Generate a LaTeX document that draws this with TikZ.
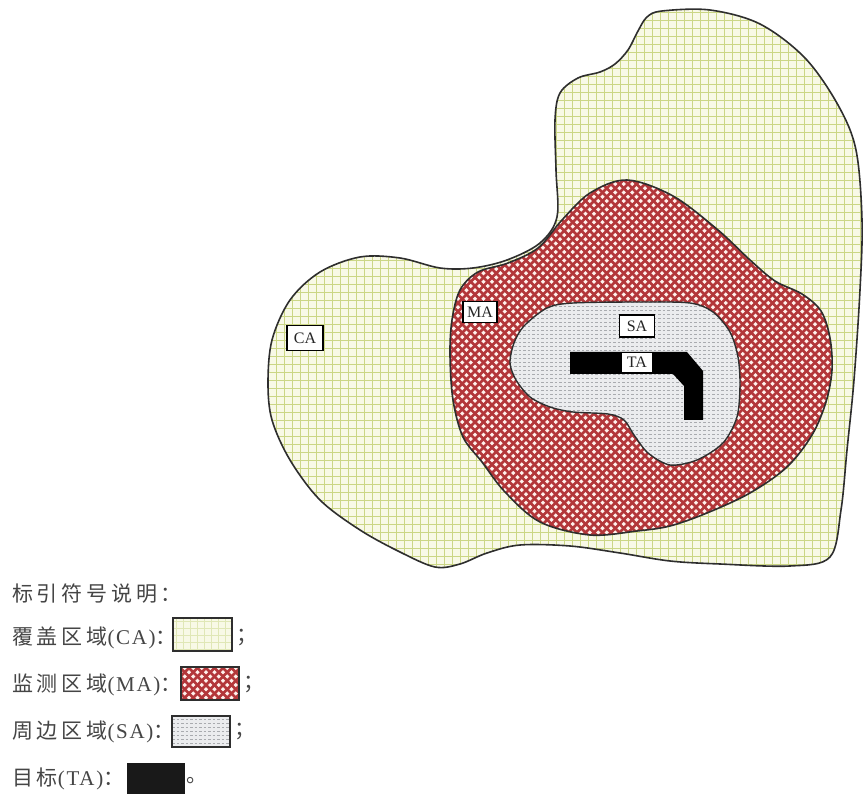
\documentclass[tikz,border=0pt]{standalone}
\usepackage{fontspec}
\setmainfont{Liberation Serif}
\newfontfamily\cjk[LetterSpace=18]{Noto Sans CJK SC}
\newfontfamily\latn[LetterSpace=8]{Liberation Serif}
\definecolor{caFill}{HTML}{F8F9E6}
\definecolor{caLine}{HTML}{CBD685}
\definecolor{maRed}{HTML}{B3373A}
\definecolor{maHole}{HTML}{FFF1EC}
\definecolor{saFill}{HTML}{EBECEE}
\definecolor{saLine}{HTML}{A9ABAF}
\definecolor{outl}{HTML}{2E2E2E}
\definecolor{txt}{HTML}{454545}
\newcommand\xhatch[2]{%
  \foreach \c in {#1} {\draw[maRed,line width=2.75] ({\c+100},-100) -- ({\c-900},900);}%
  \foreach \c in {#2} {\draw[maRed,line width=2.75] ({\c-100},-100) -- ({\c+900},900);}}
\begin{document}
\begin{tikzpicture}[x=1pt,y=-1pt,
  outline/.style={draw=outl,line width=1.6},
  arealbl/.style={draw=black,line width=1.2,fill=white,inner sep=0pt,
    font=\fontsize{16}{16}\selectfont,text=black!85},
  legtxt/.style={anchor=west,inner sep=0pt,text=txt,font=\fontsize{21}{24}\selectfont},
  legbox/.style={draw=outl,line width=1.5}]
\useasboundingbox (0,0) rectangle (863,794);
\fill[white] (0,0) rectangle (863,794);

\def\capath{plot[smooth cycle,tension=0.55] coordinates {
 (662,11) (710,10) (760,24) (805,58) (838,105) (856,150) (862,220) (860,290)
 (854,380) (847,450) (841,510) (830,557) (790,566) (720,564) (670,561)
 (620,553) (570,546) (520,545) (487,553) (460,564) (435,567) (400,552)
 (360,530) (320,500) (290,460) (272,420) (268,383) (272,340) (290,300)
 (320,272) (360,257) (400,258) (440,268) (473,268) (507,260) (540,243)
 (557,217) (556,170) (555,120) (560,93) (578,78) (600,72) (615,64) (628,50) (638,31) (647,17)}}
\def\mapath{plot[smooth cycle,tension=0.55] coordinates {
 (627,180) (673,196) (718,230) (750,260) (775,281) (802,294) (821,311)
 (830,338) (832,370) (826,402) (812,435) (787,467) (750,493) (707,513)
 (670,526) (637,531) (590,535) (540,522) (505,492) (482,462) (463,437)
 (453,400) (450,355) (452,320) (460,290) (478,272) (508,263) (538,248)
 (562,220) (590,193)}}
\def\sapath{plot[smooth cycle,tension=0.5] coordinates {
 (573,303) (640,302) (690,303) (713,312) (730,332) (738,357) (740,385)
 (737,417) (723,443) (697,460) (670,465) (648,453) (634,435) (624,420)
 (608,414) (573,412) (550,407) (530,397) (516,380) (510,363) (514,343)
 (524,326) (547,308)}}

% CA region
\begin{scope}
  \clip \capath;
  \fill[caFill] (250,0) rectangle (870,580);
  \foreach \x in {260.5,268.5,...,868} {\draw[caLine,line width=1.3] (\x,0) -- (\x,580);}
  \foreach \y in {4.5,12.5,...,578} {\draw[caLine,line width=1.3] (255,\y) -- (868,\y);}
\end{scope}
\draw[outline] \capath;

% MA region
\begin{scope}
  \clip \mapath;
  \fill[maHole] (440,170) rectangle (840,545);
  \xhatch{625,633.5,...,1380}{-100,-91.5,...,505}
\end{scope}
\draw[outline] \mapath;

% SA region
\begin{scope}
  \clip \sapath;
  \fill[saFill] (500,295) rectangle (745,472);
  \foreach \y in {302,306,...,470} {\draw[saLine,line width=0.6,dash pattern=on 2.5 off 2] (505,\y) -- (745,\y);}
\end{scope}
\draw[outline,line width=1.4] \sapath;

% TA target
\fill[black] (570,352) -- (687,352) -- (703,371) -- (703,420) -- (684,420)
  -- (684,386) -- (673,374) -- (570,374) -- cycle;

% area labels
\node[arealbl,minimum width=36,minimum height=25] (ca) at (305,338) {CA};
\node[arealbl,minimum width=34,minimum height=21] (ma) at (480,312) {MA};
\node[arealbl,minimum width=35,minimum height=22] (sa) at (637,326) {SA};
\node[arealbl,draw=none,minimum width=30,minimum height=19] (ta) at (637,362.5) {TA};

% legend
\node[legtxt] (l0) at (12,594) {\cjk 标引符号说明：};
\node[legtxt] (l1) at (12,638) {{\cjk 覆盖区域}{\latn (CA)}{\cjk ：}};
\node[legtxt] (l2) at (12,685) {{\cjk 监测区域}{\latn (MA)}{\cjk ：}};
\node[legtxt] (l3) at (12,732) {{\cjk 周边区域}{\latn (SA)}{\cjk ：}};
\node[legtxt] (l4) at (12,779) {{\cjk 目标}{\latn (TA)}{\cjk ：}};

% legend swatches
\begin{scope}
  \clip (173,618) rectangle (232,651);
  \fill[caFill] (173,618) rectangle (232,651);
  \foreach \x in {176.5,183.5,...,232} {\draw[caLine!60,line width=0.8] (\x,618) -- (\x,651);}
  \foreach \y in {621.5,628.5,...,651} {\draw[caLine!60,line width=0.8] (173,\y) -- (232,\y);}
\end{scope}
\draw[legbox] (173,618) rectangle (232,651);
\begin{scope}
  \clip (181,667) rectangle (239,700);
  \fill[maHole] (181,667) rectangle (239,700);
  \xhatch{840,848.5,...,950}{-530,-521.5,...,-420}
\end{scope}
\draw[legbox] (181,667) rectangle (239,700);
\begin{scope}
  \clip (172,716) rectangle (230,747);
  \fill[saFill] (172,716) rectangle (230,747);
  \foreach \y in {719,723,...,747} {\draw[saLine,line width=0.6,dash pattern=on 2.5 off 2] (172,\y) -- (230,\y);}
\end{scope}
\draw[legbox] (172,716) rectangle (230,747);
\fill[black!90] (127,763) rectangle (185,796);

\node[legtxt] (s1) at (236,638) {\cjk ；};
\node[legtxt] (s2) at (243,685) {\cjk ；};
\node[legtxt] (s3) at (234,732) {\cjk ；};
\node[legtxt] (s4) at (186,781) {\cjk 。};
\end{tikzpicture}
\end{document}
